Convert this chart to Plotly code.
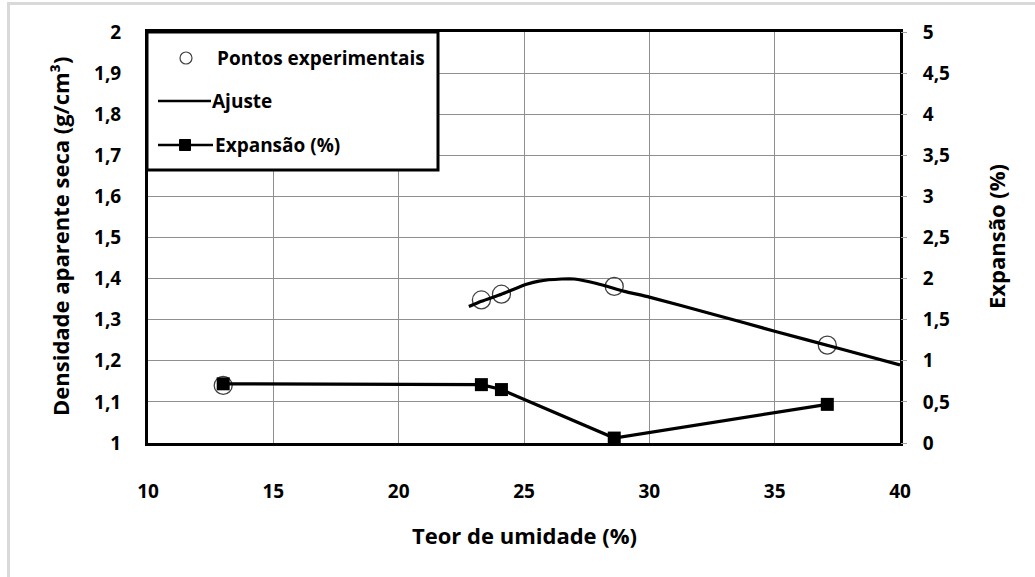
import plotly.graph_objects as go

# ---- data ----
moisture = [13.0, 23.3, 24.1, 28.6, 37.1]
density = [1.14, 1.348, 1.362, 1.381, 1.238]
expansion = [0.72, 0.71, 0.65, 0.06, 0.47]
fit_x = [22.8, 23.3, 24.1, 25.1, 25.6, 26.5, 27.0, 27.9, 29.0, 30.0, 32.5, 35.0, 37.5, 40.0]
fit_y = [1.332, 1.345, 1.362, 1.386, 1.394, 1.399, 1.399, 1.388, 1.369, 1.355, 1.314, 1.272, 1.231, 1.19]

x_ticks = [10, 15, 20, 25, 30, 35, 40]
y_ticks = [1.0, 1.1, 1.2, 1.3, 1.4, 1.5, 1.6, 1.7, 1.8, 1.9, 2.0]
y_labels = ["1", "1,1", "1,2", "1,3", "1,4", "1,5", "1,6", "1,7", "1,8", "1,9", "2"]
y2_ticks = [0, 0.5, 1, 1.5, 2, 2.5, 3, 3.5, 4, 4.5, 5]
y2_labels = ["0", "0,5", "1", "1,5", "2", "2,5", "3", "3,5", "4", "4,5", "5"]

legend_labels = ["Pontos experimentais", "Ajuste", "Expansão (%)"]
x_title = "Teor de umidade (%)"
y_title = "Densidade aparente seca (g/cm³)"
y2_title = "Expansão (%)"

W, H = 1035, 577
L, R, T, B = 148, 135, 32, 134
PW, PH = W - L - R, H - T - B

def px(xp):
    return (xp - L) / PW

def py(yp):
    return (H - B - yp) / PH

FONT = "Open Sans"
tick_font = dict(family=FONT, size=19, color="black", weight="bold")
title_font = dict(family=FONT, size=22, color="black", weight="bold")

fig = go.Figure()

fig.add_trace(go.Scatter(
    x=moisture, y=density, mode="markers", showlegend=False,
    marker=dict(symbol="circle-open", size=18, color="#404040", line=dict(width=1.3, color="#404040")),
    xaxis="x", yaxis="y"))
fig.add_trace(go.Scatter(
    x=fit_x, y=fit_y, mode="lines", showlegend=False,
    line=dict(color="black", width=3.2, shape="spline", smoothing=0.4),
    xaxis="x", yaxis="y"))
fig.add_trace(go.Scatter(
    x=moisture, y=expansion, mode="lines+markers", showlegend=False,
    line=dict(color="black", width=3.2),
    marker=dict(symbol="square", size=13, color="black"),
    xaxis="x", yaxis="y2"))

grid = "#8f8f8f"
fig.update_layout(
    width=W, height=H,
    margin=dict(l=L, r=R, t=T, b=B),
    paper_bgcolor="white", plot_bgcolor="white",
    showlegend=False,
    xaxis=dict(range=[10, 40], tickvals=x_ticks, ticktext=[str(v) for v in x_ticks],
               showgrid=True, gridcolor=grid, gridwidth=1, zeroline=False,
               showline=True, linecolor="black", linewidth=3, mirror=True,
               ticks="", tickfont=tick_font, ticklabelstandoff=29),
    yaxis=dict(range=[1, 2], tickvals=y_ticks, ticktext=y_labels,
               showgrid=True, gridcolor=grid, gridwidth=1, zeroline=False,
               showline=True, linecolor="black", linewidth=3, mirror=True,
               ticks="", tickfont=tick_font, ticklabelstandoff=20),
    yaxis2=dict(range=[0, 5], tickvals=y2_ticks, ticktext=y2_labels, overlaying="y", side="right",
                showgrid=False, zeroline=False, showline=False,
                ticks="outside", ticklen=6, tickcolor="#a0a0a0", tickwidth=1,
                tickfont=tick_font, ticklabelstandoff=12),
)

shapes = []
# outer light border
shapes.append(dict(type="rect", xref="paper", yref="paper",
                   x0=px(8.5), x1=px(1045), y0=py(590), y1=py(3.5),
                   line=dict(color="#d9d9d9", width=3), fillcolor="rgba(0,0,0,0)", layer="below"))
# legend box
shapes.append(dict(type="rect", xref="paper", yref="paper",
                   x0=px(147), x1=px(438), y0=py(170), y1=py(32),
                   line=dict(color="black", width=3), fillcolor="white", layer="above"))
# legend samples
shapes.append(dict(type="circle", xref="paper", yref="paper",
                   x0=px(180), x1=px(192), y0=py(64), y1=py(52),
                   line=dict(color="#404040", width=1.2), fillcolor="white", layer="above"))
shapes.append(dict(type="line", xref="paper", yref="paper",
                   x0=px(158), x1=px(211), y0=py(101), y1=py(101),
                   line=dict(color="black", width=2.5), layer="above"))
shapes.append(dict(type="line", xref="paper", yref="paper",
                   x0=px(158), x1=px(213), y0=py(145), y1=py(145),
                   line=dict(color="black", width=2.5), layer="above"))
shapes.append(dict(type="rect", xref="paper", yref="paper",
                   x0=px(179.5), x1=px(190.5), y0=py(150.5), y1=py(139.5),
                   line=dict(color="black", width=1), fillcolor="black", layer="above"))
fig.update_layout(shapes=shapes)

ann = []
leg_font = dict(family=FONT, size=19, color="black", weight="bold")
for label, yy, xx in zip(legend_labels, [58, 101, 145], [215, 210, 213]):
    ann.append(dict(text=label, xref="paper", yref="paper", x=px(xx), y=py(yy),
                    xanchor="left", yanchor="middle", showarrow=False, font=leg_font))
ann.append(dict(text=x_title, xref="paper", yref="paper", x=px(524), y=py(535),
                xanchor="center", yanchor="middle", showarrow=False, font=title_font))
ann.append(dict(text=y_title, xref="paper", yref="paper", x=px(60), y=py(237),
                xanchor="center", yanchor="middle", showarrow=False, font=title_font, textangle=-90))
ann.append(dict(text=y2_title, xref="paper", yref="paper", x=px(996), y=py(237),
                xanchor="center", yanchor="middle", showarrow=False, font=title_font, textangle=-90))
fig.update_layout(annotations=ann)

fig.write_html("out.html")
